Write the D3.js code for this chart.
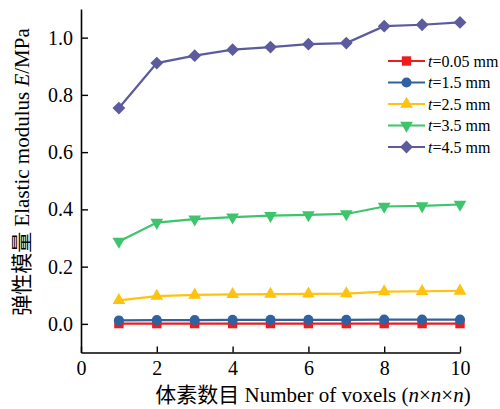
<!DOCTYPE html>
<html>
<head>
<meta charset="utf-8">
<script src="https://cdn.jsdelivr.net/npm/d3@7"></script>
<style>
  body { margin: 0; background: #fff; }
  svg text { font-family: "Liberation Serif", "Noto Sans CJK SC", serif; }
</style>
</head>
<body>
<figure id="chart" style="margin:0"></figure>
<script>
// voxel counts n (n x n x n)
const voxels = [1, 2, 3, 4, 5, 6, 7, 8, 9, 10];

// elastic modulus E (MPa) per thickness t
const t005 = [0.001, 0.001, 0.001, 0.001, 0.001, 0.001, 0.001, 0.001, 0.001, 0.001];
const t15  = [0.012, 0.013, 0.013, 0.014, 0.014, 0.014, 0.014, 0.015, 0.015, 0.015];
const t25  = [0.082, 0.097, 0.101, 0.103, 0.104, 0.105, 0.106, 0.113, 0.114, 0.115];
const t35  = [0.288, 0.354, 0.366, 0.373, 0.378, 0.381, 0.384, 0.410, 0.412, 0.417];
const t45  = [0.754, 0.911, 0.937, 0.958, 0.967, 0.977, 0.981, 1.040, 1.045, 1.053];

const seriesNames = ["0.05", "1.5", "2.5", "3.5", "4.5"];
const xTicks = [0, 2, 4, 6, 8, 10];
const yTicks = [0.0, 0.2, 0.4, 0.6, 0.8, 1.0];

const width = 500, height = 409;
const margin = { left: 81, right: 40, top: 9, bottom: 56.5 };

const series = [
  { name: seriesNames[0], values: t005, color: "#ee1c1c", shape: "square" },
  { name: seriesNames[1], values: t15,  color: "#2f62a0", shape: "circle" },
  { name: seriesNames[2], values: t25,  color: "#ffc20e", shape: "up" },
  { name: seriesNames[3], values: t35,  color: "#3dc46c", shape: "down" },
  { name: seriesNames[4], values: t45,  color: "#5b5b9d", shape: "diamond" }
];

const svg = d3.select("#chart").append("svg")
  .attr("width", width)
  .attr("height", height);

const x = d3.scaleLinear().domain([0, 10]).range([margin.left, width - margin.right]);
const y = d3.scaleLinear().domain([-0.1, 1.1]).range([height - margin.bottom, margin.top]);

function symbolPath(shape) {
  if (shape === "circle") return d3.symbol(d3.symbolCircle, 80)();
  if (shape === "square") return d3.symbol(d3.symbolSquare, 88)();
  if (shape === "diamond") return d3.symbol(d3.symbolSquare, 82)();
  return d3.symbol(d3.symbolTriangle, 70)();
}
function symbolRotate(shape) {
  if (shape === "diamond") return 45;
  if (shape === "down") return 180;
  return 0;
}

const line = d3.line()
  .x((d, i) => x(voxels[i]))
  .y(d => y(d));

series.forEach(s => {
  const g = svg.append("g");
  g.append("path")
    .attr("d", line(s.values))
    .attr("fill", "none")
    .attr("stroke", s.color)
    .attr("stroke-width", 2.2);
  g.selectAll("path.pt")
    .data(s.values)
    .join("path")
      .attr("class", "pt")
      .attr("d", symbolPath(s.shape))
      .attr("transform", (d, i) => `translate(${x(voxels[i])},${y(d)}) rotate(${symbolRotate(s.shape)})`)
      .attr("fill", s.color);
});

// axes
const xAxis = svg.append("g")
  .attr("transform", `translate(0,${height - margin.bottom})`)
  .call(d3.axisBottom(x).tickValues(xTicks).tickSizeInner(-6).tickSizeOuter(0).tickPadding(8));
const yAxis = svg.append("g")
  .attr("transform", `translate(${margin.left},0)`)
  .call(d3.axisLeft(y).tickValues(yTicks).tickFormat(d3.format(".1f")).tickSizeInner(-7).tickSizeOuter(0).tickPadding(8));

[xAxis, yAxis].forEach(a => {
  a.select(".domain").attr("stroke", "#000").attr("stroke-width", 1.6);
  a.selectAll(".tick line").attr("stroke", "#000").attr("stroke-width", 1.4);
  a.selectAll(".tick text")
    .attr("fill", "#000")
    .style("font-size", "20px")
    .style("font-family", "'Liberation Serif', serif");
});

// axis titles
const xTitle = svg.append("text")
  .attr("x", 313)
  .attr("y", 402)
  .attr("text-anchor", "middle")
  .style("font-size", "21px")
  .attr("fill", "#000");
xTitle.append("tspan").text("体素数目 Number of voxels (");
xTitle.append("tspan").style("font-style", "italic").text("n");
xTitle.append("tspan").text("×");
xTitle.append("tspan").style("font-style", "italic").text("n");
xTitle.append("tspan").text("×");
xTitle.append("tspan").style("font-style", "italic").text("n");
xTitle.append("tspan").text(")");

const yTitle = svg.append("text")
  .attr("transform", "translate(29,172) rotate(-90)")
  .attr("text-anchor", "middle")
  .style("font-size", "21px")
  .attr("fill", "#000");
yTitle.append("tspan").text("弹性模量 Elastic modulus ");
yTitle.append("tspan").style("font-style", "italic").text("E");
yTitle.append("tspan").text("/MPa");

// legend
const legend = svg.append("g").attr("transform", "translate(388,61)");
series.forEach((s, i) => {
  const row = legend.append("g").attr("transform", `translate(0,${i * 21.5})`);
  row.append("line")
    .attr("x1", 0).attr("x2", 37)
    .attr("stroke", s.color)
    .attr("stroke-width", 2.2);
  row.append("path")
    .attr("d", symbolPath(s.shape))
    .attr("transform", `translate(18.5,0) rotate(${symbolRotate(s.shape)})`)
    .attr("fill", s.color);
  const t = row.append("text")
    .attr("x", 40)
    .attr("y", 5.5)
    .style("font-size", "16px")
    .attr("fill", "#000");
  t.append("tspan").style("font-style", "italic").text("t");
  t.append("tspan").text("=" + s.name + " mm");
});
</script>
</body>
</html>
